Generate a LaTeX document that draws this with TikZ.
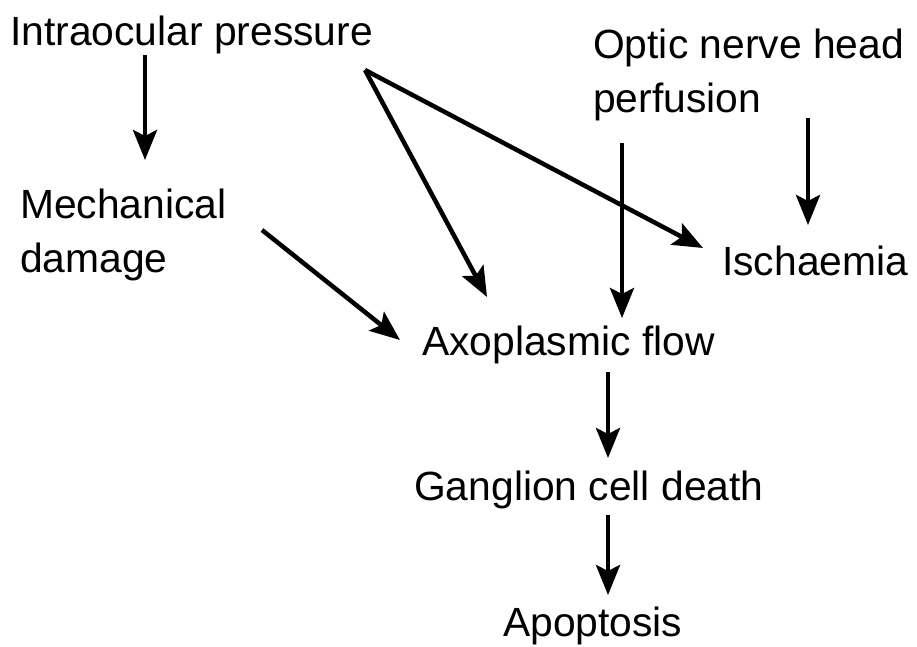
\documentclass[tikz,border=0pt]{standalone}
\usepackage{fontspec}
\setmainfont{Liberation Sans}
\usetikzlibrary{arrows.meta}
\begin{document}
\begin{tikzpicture}[x=1pt,y=-1pt,
  lbl/.style={anchor=base west,inner sep=0pt,font=\fontsize{40.8}{48}\selectfont},
  arr/.style={line width=4.5pt,-{Stealth[length=30pt,width=24pt,inset=6pt]}}]
\useasboundingbox (0,0) rectangle (917,646);
\node[lbl] (iop) at (10,45) {Intraocular pressure};
\node[lbl] (onh1) at (593,58) {Optic nerve head};
\node[lbl] (onh2) at (593,112) {perfusion};
\node[lbl] (mech1) at (20,218) {Mechanical};
\node[lbl] (mech2) at (20,272) {damage};
\node[lbl] (isch) at (722,275) {Ischaemia};
\node[lbl] (axo) at (422,355) {Axoplasmic flow};
\node[lbl] (gang) at (414,500) {Ganglion cell death};
\node[lbl] (apo) at (503,636) {Apoptosis};
\coordinate (a1s) at (145,55);  \coordinate (a1e) at (145,160);
\coordinate (hub) at (365,70);
\coordinate (a2e) at (487,297);
\coordinate (a3e) at (703,248);
\coordinate (a4s) at (262,230); \coordinate (a4e) at (400,340);
\coordinate (a5s) at (622,143); \coordinate (a5e) at (622,318);
\coordinate (a6s) at (808,118); \coordinate (a6e) at (808,225);
\coordinate (a7s) at (608,372); \coordinate (a7e) at (608,458);
\coordinate (a8s) at (608,515); \coordinate (a8e) at (608,595);
\draw[arr] (a1s) -- (a1e);
\draw[arr] (hub) -- (a2e);
\draw[arr] (hub) -- (a3e);
\draw[arr] (a4s) -- (a4e);
\draw[arr] (a5s) -- (a5e);
\draw[arr] (a6s) -- (a6e);
\draw[arr] (a7s) -- (a7e);
\draw[arr] (a8s) -- (a8e);
\end{tikzpicture}
\end{document}
